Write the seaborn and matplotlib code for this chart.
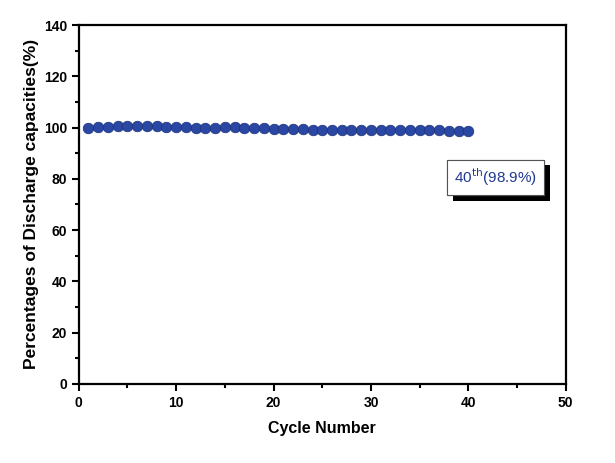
import matplotlib
matplotlib.use("Agg")
import matplotlib.pyplot as plt
import matplotlib.patheffects as pe
from matplotlib.ticker import MultipleLocator
import seaborn as sns
import pandas as pd

cycles = list(range(1, 41))
retention = [100.0, 100.1, 100.3, 100.5, 100.6, 100.7, 100.6, 100.5, 100.3, 100.2,
             100.1, 100.0, 99.9, 100.0, 100.1, 100.1, 100.0, 99.9, 99.8, 99.5,
             99.4, 99.3, 99.3, 99.2, 99.2, 99.1, 99.1, 99.1, 99.0, 99.0,
             99.0, 99.0, 99.0, 99.0, 98.9, 98.9, 98.9, 98.8, 98.8, 98.7]
annotation = "40$^{\\mathrm{th}}$(98.9%)"

sns.set_style("ticks")
plt.rcParams['font.family'] = ['Liberation Sans', 'DejaVu Sans']
plt.rcParams['text.color'] = 'black'
plt.rcParams['axes.labelcolor'] = 'black'
plt.rcParams['xtick.color'] = 'black'
plt.rcParams['ytick.color'] = 'black'
plt.rcParams['axes.edgecolor'] = 'black'

df = pd.DataFrame({"Cycle": cycles, "Ret": retention})

fig = plt.figure(figsize=(6.15, 4.63), dpi=100)
ax = fig.add_axes([0.128, 0.171, 0.792, 0.775])
sns.scatterplot(data=df, x="Cycle", y="Ret", ax=ax, s=58, color="#2a48a3",
                edgecolor="#1a2f78", linewidth=0.5, zorder=3)

ax.set_xlim(0, 50)
ax.set_ylim(0, 140)
ax.xaxis.set_major_locator(MultipleLocator(10))
ax.xaxis.set_minor_locator(MultipleLocator(5))
ax.yaxis.set_major_locator(MultipleLocator(20))
ax.yaxis.set_minor_locator(MultipleLocator(10))
ax.tick_params(which='major', direction='out', length=5, width=1.5, labelsize=10)
ax.tick_params(which='minor', direction='out', length=3, width=1.5)
for lab in ax.get_xticklabels() + ax.get_yticklabels():
    lab.set_fontweight('bold')
for sp in ax.spines.values():
    sp.set_linewidth(1.6)
    sp.set_visible(True)

ax.set_xlabel("Cycle Number", fontsize=11.5, fontweight='bold', labelpad=8)
ax.set_ylabel("Percentages of Discharge capacities(%)", fontsize=12.5, fontweight='bold', labelpad=3)

t = ax.text(42.8, 80.5, annotation, fontsize=11, color="#1f3a93", ha='center', va='center',
            bbox=dict(boxstyle='square,pad=0.45', facecolor='white', edgecolor='#555555', linewidth=0.8))
t.get_bbox_patch().set_path_effects([pe.withSimplePatchShadow(offset=(4, -4), shadow_rgbFace='black', alpha=1.0), pe.Normal()])

fig.savefig("out.png", dpi=100)
